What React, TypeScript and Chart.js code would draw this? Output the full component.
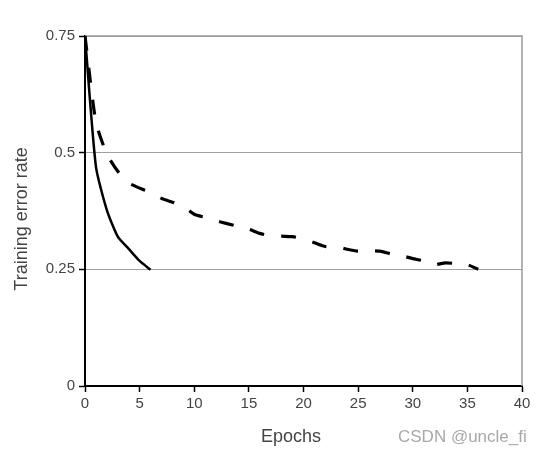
import React, { useEffect, useRef } from "react";
import { Chart, registerables } from "chart.js";

Chart.register(...registerables);

const solidEpochs = [0, 1, 2, 3, 4, 5, 6];
const solidValues = [0.75, 0.47, 0.377, 0.32, 0.294, 0.268, 0.249];

const dashedEpochs = [
  0, 1, 2, 3, 4, 5, 6, 7, 8, 9, 10, 11, 12, 13, 14, 15, 16, 17, 18, 19, 20,
  21, 22, 23, 24, 25, 26, 27, 28, 29, 30, 31, 32, 33, 34, 35, 36,
];
const dashedValues = [
  0.75, 0.565, 0.497, 0.46, 0.435, 0.424, 0.415, 0.402, 0.394, 0.385, 0.368,
  0.361, 0.354, 0.348, 0.342, 0.336, 0.327, 0.322, 0.321, 0.32, 0.315, 0.307,
  0.299, 0.299, 0.293, 0.289, 0.29, 0.289, 0.283, 0.279, 0.273, 0.268, 0.26,
  0.264, 0.262, 0.26, 0.25,
];

const yTickValues = [0, 0.25, 0.5, 0.75];
const yTickLabels = ["0", "0.25", "0.5", "0.75"];
const xTitle = "Epochs";
const yTitle = "Training error rate";
const watermark = "CSDN @uncle_fi";

const FONT = "'Liberation Sans', Arial, sans-serif";
const TEXT = "#444";

export default function App() {
  const ref = useRef<HTMLCanvasElement | null>(null);

  useEffect(() => {
    if (!ref.current) return;
    const framePlugin = {
      id: "frame",
      beforeDatasetsDraw(chart: any) {
        const { ctx, chartArea } = chart;
        ctx.save();
        ctx.strokeStyle = "#9a9a9a";
        ctx.lineWidth = 1.5;
        ctx.beginPath();
        ctx.moveTo(chartArea.left, chartArea.top);
        ctx.lineTo(chartArea.right, chartArea.top);
        ctx.lineTo(chartArea.right, chartArea.bottom);
        ctx.stroke();
        ctx.restore();
      },
      afterDraw(chart: any) {
        const { ctx } = chart;
        ctx.save();
        ctx.fillStyle = TEXT;
        ctx.font = `18px ${FONT}`;
        ctx.textAlign = "center";
        ctx.textBaseline = "middle";
        ctx.fillText(xTitle, 291, 437);
        ctx.translate(22, 219);
        ctx.rotate(-Math.PI / 2);
        ctx.fillText(yTitle, 0, 0);
        ctx.restore();
        ctx.save();
        ctx.fillStyle = "#a8a8a8";
        ctx.font = `17px ${FONT}`;
        ctx.textAlign = "left";
        ctx.textBaseline = "middle";
        ctx.fillText(watermark, 398, 437);
        ctx.restore();
      },
    };

    const chart = new Chart(ref.current, {
      type: "line",
      data: {
        datasets: [
          {
            label: "solid",
            data: solidEpochs.map((x, i) => ({ x, y: solidValues[i] })),
            borderColor: "#000",
            borderWidth: 2.5,
            pointRadius: 0,
            tension: 0.2,
            fill: false,
          },
          {
            label: "dashed",
            data: dashedEpochs.map((x, i) => ({ x, y: dashedValues[i] })),
            borderColor: "#000",
            borderWidth: 3.2,
            borderDash: [15, 17],
            pointRadius: 0,
            tension: 0.2,
            fill: false,
          },
        ],
      },
      options: {
        responsive: false,
        animation: false,
        layout: { padding: { top: 36, right: 29, left: 0, bottom: 0 } },
        plugins: {
          legend: { display: false },
          tooltip: { enabled: false },
        },
        scales: {
          x: {
            type: "linear",
            min: 0,
            max: 40,
            ticks: {
              stepSize: 5,
              color: TEXT,
              font: { family: FONT, size: 15 },
              padding: 3,
              maxRotation: 0,
            },
            grid: {
              drawOnChartArea: false,
              drawTicks: true,
              tickLength: 6,
              tickColor: "#000",
              tickWidth: 1.5,
            },
            border: { color: "#000", width: 2 },
            afterFit(scale: any) {
              scale.height = 70;
            },
          },
          y: {
            type: "linear",
            min: 0,
            max: 0.75,
            afterBuildTicks(scale: any) {
              scale.ticks = yTickValues.map((v) => ({ value: v }));
            },
            ticks: {
              color: TEXT,
              font: { family: FONT, size: 15 },
              padding: 4,
              callback: (v: any) => {
                const i = yTickValues.indexOf(Number(v));
                return i >= 0 ? yTickLabels[i] : "";
              },
            },
            grid: {
              color: (c: any) =>
                c.tick && c.tick.value === 0 ? "rgba(0,0,0,0)" : "#a0a0a0",
              lineWidth: 1,
              drawTicks: true,
              tickLength: 6,
              tickColor: "#000",
              tickWidth: 1.5,
            },
            border: { color: "#000", width: 2 },
            afterFit(scale: any) {
              scale.width = 85;
            },
          },
        },
      },
      plugins: [framePlugin],
    });
    return () => chart.destroy();
  }, []);

  return (
    <div
      style={{
        position: "absolute",
        left: 0,
        top: 0,
        width: 551,
        height: 456,
        background: "#fff",
      }}
    >
      <canvas ref={ref} width={551} height={456} />
    </div>
  );
}
